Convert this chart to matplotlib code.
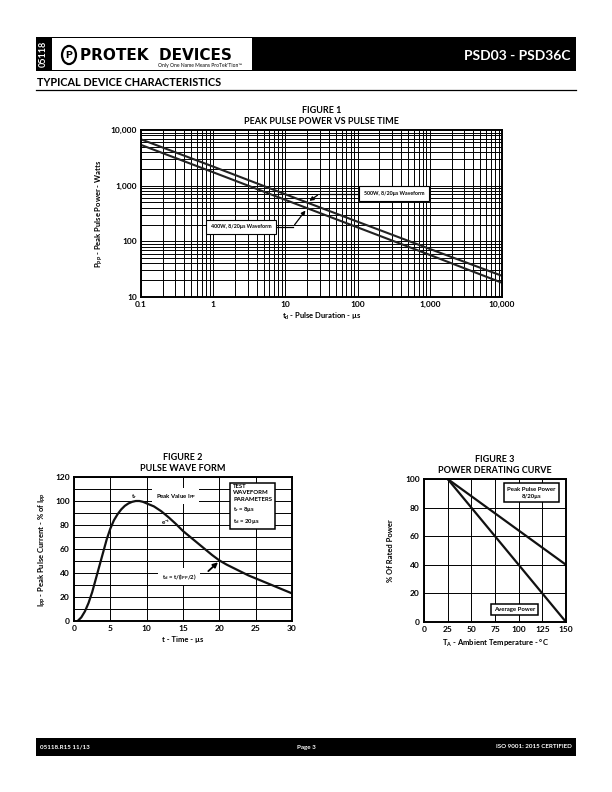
import numpy as np
import matplotlib.pyplot as plt
from matplotlib.patches import Rectangle, Circle

plt.rcParams['font.family'] = ['Lato', 'DejaVu Sans']
plt.rcParams['font.weight'] = 'bold'
plt.rcParams['axes.labelweight'] = 'bold'
plt.rcParams['axes.titleweight'] = 'bold'
plt.rcParams['mathtext.default'] = 'regular'

# Figure 1 - peak pulse power vs pulse time
pulse_time = [0.1, 1, 10, 100, 1000, 10000]
power_500w = [6800, 2200, 700, 225, 73, 24]
power_400w = [5400, 1740, 555, 178, 57, 18]

# Figure 2 - pulse wave form (8/20us)
wave_t = [0.5, 1, 1.5, 2, 2.5, 3, 3.5, 4, 4.5, 5, 5.5, 6, 6.5, 7, 7.5, 8, 8.5, 9, 9.5, 10,
          11, 12, 13, 14, 15, 16, 17, 18, 19, 20, 21, 22, 23, 24, 25, 26, 27, 28, 29, 30]
wave_i = [0, 3, 8, 15, 24, 35, 46, 57, 68, 77, 84, 89, 93, 96, 98, 99.3, 100, 100, 99.3, 98,
          95.5, 91.5, 86.5, 81, 75, 70, 65, 60, 55, 50.5, 47, 44, 41, 38, 35.5, 33, 30.5, 28, 25.5, 23]

# Figure 3 - power derating
temp = [25, 150]
peak_derate = [100, 40]
avg_derate = [100, 0]

W, H = 612, 792
fig = plt.figure(figsize=(W / 100, H / 100), dpi=100)


def fx(px):
    return px / W


def fy(py):
    return 1 - py / H


def rect(x0, y0, x1, y1, **kw):
    fig.patches.append(Rectangle((fx(x0), fy(y1)), fx(x1) - fx(x0), fy(y0) - fy(y1),
                                 transform=fig.transFigure, **kw))


# header
rect(36, 37, 576, 71, facecolor='black', edgecolor='none')
rect(52, 38, 252, 70, facecolor='white', edgecolor='none')
fig.text(fx(43), fy(54), '05118', color='white', rotation=90, fontsize=6.5,
         ha='center', va='center')
fig.patches.append(Circle((fx(69), fy(55)), 7 / W, transform=fig.transFigure,
                          facecolor='white', edgecolor='black', lw=1.6))
fig.text(fx(69), fy(55.5), 'P', fontsize=7.5, ha='center', va='center', fontweight='heavy')
fig.text(fx(80), fy(55), 'PROTEK  DEVICES', fontsize=11, ha='left', va='center',
         family=['DejaVu Sans'], fontweight='heavy')
fig.text(fx(200), fy(65), 'Only One Name Means ProTek\'Tion\u2122', fontsize=3.6,
         ha='center', va='center', fontweight='normal')
fig.text(fx(571), fy(56), 'PSD03 - PSD36C', color='white', fontsize=10,
         ha='right', va='center')
fig.text(fx(37), fy(82), 'TYPICAL DEVICE CHARACTERISTICS', fontsize=7.8,
         ha='left', va='center')
fig.add_artist(plt.Line2D([fx(36), fx(576)], [fy(90), fy(90)], color='black', lw=0.9,
                          transform=fig.transFigure))

# footer
rect(36, 738, 576, 756, facecolor='black', edgecolor='none')
fig.text(fx(40), fy(747), '05118.R15 11/13', color='white', fontsize=4.5, va='center')
fig.text(fx(306), fy(747), 'Page 3', color='white', fontsize=4.5, va='center', ha='center')
fig.text(fx(572), fy(747), 'ISO 9001: 2015 CERTIFIED', color='white', fontsize=4.5,
         va='center', ha='right')

tick_fs = 6
lab_fs = 5.5
title_fs = 6.5


def style(ax):
    for s in ax.spines.values():
        s.set_linewidth(1.4)
    ax.tick_params(length=0, labelsize=tick_fs, pad=3)
    ax.set_axisbelow(True)


# ---------- Figure 1 ----------
ax1 = fig.add_axes([fx(141), fy(297), fx(502) - fx(141), fy(130) - fy(297)])
ax1.set_xscale('log')
ax1.set_yscale('log')
ax1.set_xlim(0.1, 10000)
ax1.set_ylim(10, 10000)
ax1.grid(True, which='both', color='black', lw=0.7)
ax1.plot(pulse_time, power_500w, color='#222222', lw=1.5)
ax1.plot(pulse_time, power_400w, color='#222222', lw=1.5)
ax1.set_xticks([0.1, 1, 10, 100, 1000, 10000])
ax1.set_xticklabels(['0.1', '1', '10', '100', '1,000', '10,000'])
ax1.set_yticks([10, 100, 1000, 10000])
ax1.set_yticklabels(['10', '100', '1,000', '10,000'])
ax1.tick_params(which='minor', length=0)
ax1.minorticks_on()
ax1.xaxis.set_minor_formatter(plt.NullFormatter())
ax1.yaxis.set_minor_formatter(plt.NullFormatter())
style(ax1)
ax1.set_xlabel(r'$t_d$ - Pulse Duration - µs', fontsize=lab_fs, labelpad=2)
ax1.set_ylabel(r'$P_{PP}$ - Peak Pulse Power - Watts', fontsize=lab_fs, labelpad=4)
ax1.set_title('FIGURE 1\nPEAK PULSE POWER VS PULSE TIME', fontsize=title_fs, pad=4,
              linespacing=1.4)
# 500W leader
ax1.plot([30, 320], [720, 720], color='black', lw=0.9)
ax1.annotate('', xy=(20, 500), xytext=(30, 720),
             arrowprops=dict(arrowstyle='-|>', color='black', lw=0.9, mutation_scale=6))
ax1.text(320, 720, '500W, 8/20µs Waveform', fontsize=3.8, ha='center', va='center',
         bbox=dict(boxstyle='square,pad=0.9', fc='white', ec='black', lw=0.8))
# 400W leader
ax1.plot([2.43, 12.7], [181, 181], color='black', lw=0.9)
ax1.annotate('', xy=(20, 392), xytext=(12.7, 181),
             arrowprops=dict(arrowstyle='-|>', color='black', lw=0.9, mutation_scale=6))
ax1.text(2.43, 181, '400W, 8/20µs Waveform', fontsize=3.8, ha='center', va='center',
         bbox=dict(boxstyle='square,pad=0.9', fc='white', ec='black', lw=0.8))

# ---------- Figure 2 ----------
ax2 = fig.add_axes([fx(74), fy(621), fx(292) - fx(74), fy(477) - fy(621)])
ax2.set_xlim(0, 30)
ax2.set_ylim(0, 120)
ax2.set_xticks(np.arange(0, 31, 5))
ax2.set_yticks(np.arange(0, 121, 20))
ax2.set_yticks(np.arange(0, 121, 10), minor=True)
ax2.grid(True, which='both', color='black', lw=0.7)
ax2.tick_params(which='minor', length=0)
ax2.plot(wave_t, wave_i, color='#111111', lw=1.6)
style(ax2)
ax2.set_xlabel('t - Time - µs', fontsize=lab_fs, labelpad=3)
ax2.set_ylabel(r'$I_{PP}$ - Peak Pulse Current - % of $I_{PP}$',
               fontsize=lab_fs, labelpad=5)
ax2.set_title('FIGURE 2\nPULSE WAVE FORM', fontsize=title_fs, pad=4, linespacing=1.4)
ax2.text(8.2, 104, r'$t_r$', fontsize=4.5, ha='center', va='center')
ax2.text(14, 104, r'Peak Value $I_{PP}$', fontsize=4.3, ha='center', va='center',
         bbox=dict(boxstyle='square,pad=0.6', fc='white', ec='none'))
ax2.text(12.6, 82, r'$e^{-t}$', fontsize=4.5, ha='center', va='center')
ax2.text(14.5, 37, r'$t_d$ = t/($I_{PP}$/2)', fontsize=4.3,
         ha='center', va='center',
         bbox=dict(boxstyle='square,pad=0.6', fc='white', ec='none'))
ax2.annotate('', xy=(20.1, 50.5), xytext=(18.2, 40),
             arrowprops=dict(arrowstyle='-|>', color='black', lw=1.3, mutation_scale=7))
ax2.text(21.9, 114.5, 'TEST\nWAVEFORM\nPARAMETERS\n' + r'$t_r$ = 8µs' + '\n'
         + r'$t_d$ = 20µs', fontsize=4.3, ha='left', va='top', linespacing=1.45,
         bbox=dict(boxstyle='square,pad=0.5', fc='white', ec='black', lw=1.1))

# ---------- Figure 3 ----------
ax3 = fig.add_axes([fx(424), fy(622), fx(566) - fx(424), fy(479) - fy(622)])
ax3.set_xlim(0, 150)
ax3.set_ylim(0, 100)
ax3.set_xticks(np.arange(0, 151, 25))
ax3.set_yticks(np.arange(0, 101, 20))
ax3.grid(True, color='black', lw=0.7)
ax3.plot(temp, peak_derate, color='#111111', lw=1.6)
ax3.plot(temp, avg_derate, color='#111111', lw=1.6)
style(ax3)
ax3.set_xlabel(r'$T_A$ - Ambient Temperature - °C', fontsize=lab_fs, labelpad=3)
ax3.set_ylabel('% Of Rated Power', fontsize=lab_fs, labelpad=8)
ax3.set_title('FIGURE 3\nPOWER DERATING CURVE', fontsize=title_fs, pad=4, linespacing=1.4)
ax3.text(113.5, 90.5, 'Peak Pulse Power\n8/20µs', fontsize=4.3, ha='center', va='center',
         linespacing=1.5, bbox=dict(boxstyle='square,pad=0.6', fc='white', ec='black', lw=1.1))
ax3.text(96, 8.8, 'Average Power', fontsize=4.3, ha='center', va='center',
         bbox=dict(boxstyle='square,pad=0.5', fc='white', ec='black', lw=1.1))

fig.savefig('out.png', dpi=100)
